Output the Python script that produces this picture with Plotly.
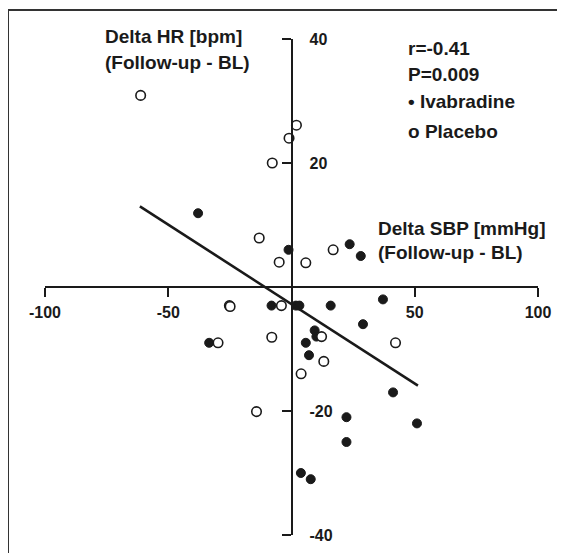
import plotly.graph_objects as go

# ---- data ----
ivab_x = [-37.9, -1.2, 23.6, 28.1, -33.4, -8.1, 1.8, 3.2, 15.9, 37.1, 29.0, 9.4, 10.1,
          5.8, 7.1, 41.2, 22.3, 50.9, 22.3, 3.8, 7.8]
ivab_y = [11.9, 6.0, 6.9, 5.0, -9.0, -3.0, -3.0, -3.0, -3.0, -2.0, -6.0, -7.0, -8.0,
          -9.0, -11.0, -17.0, -21.0, -22.0, -25.0, -30.0, -31.0]

plac_x = [-61.2, 2.0, -1.0, -7.8, -13.1, -5.0, 16.9, 5.8, -25.2, -24.9, -4.1, -8.0,
          -29.8, -14.2, 12.2, 13.1, 3.9, 42.2]
plac_y = [30.9, 26.1, 24.0, 20.0, 7.9, 4.0, 6.0, 3.9, -3.0, -3.15, -3.0, -8.1,
          -9.0, -20.1, -8.0, -12.0, -14.0, -9.0]

fit_x = [-61.5, 51.3]
fit_y = [13.0, -15.9]

x_ticks = [-100, -50, 50, 100]
x_tick_text = ["-100", "-50", "50", "100"]
y_ticks = [40, 20, -20, -40]
y_tick_text = ["40", "20", "-20", "-40"]

# ---- figure ----
# the page body has an 8px margin, so the figure is drawn 8px in from the window edge
OFF = 8
WIN_W, WIN_H = 565, 553
W, H = WIN_W - OFF, WIN_H - OFF
ML, MR, MT, MB = 45 - OFF, 27, 39 - OFF, 18
PW, PH = W - ML - MR, H - MT - MB

def px(xs):          # window pixel -> paper fraction
    return (xs - OFF - ML) / PW

def py(ys):
    return 1 - (ys - OFF - MT) / PH

FONT = "Arial, Liberation Sans, sans-serif"
INK = "#1a1a1a"
TICKFONT = dict(family=FONT, size=16, color=INK, weight="bold")

fig = go.Figure()
fig.add_trace(go.Scatter(x=ivab_x, y=ivab_y, mode="markers", name="Ivabradine",
                         marker=dict(size=9, color=INK, line=dict(color=INK, width=1)),
                         showlegend=False))
fig.add_trace(go.Scatter(x=plac_x, y=plac_y, mode="markers", name="Placebo",
                         marker=dict(size=9.5, color="white", line=dict(color=INK, width=1.6)),
                         showlegend=False))
fig.add_trace(go.Scatter(x=fit_x, y=fit_y, mode="lines", yaxis="y2",
                         line=dict(color=INK, width=2.6), showlegend=False))

fig.update_layout(
    template="none",
    width=W, height=H, margin=dict(l=ML, r=MR, t=MT, b=MB),
    plot_bgcolor="white", paper_bgcolor="white",
    xaxis=dict(range=[-100, 100], tickvals=x_ticks, ticktext=x_tick_text,
               side="bottom", anchor="free", position=0.5, automargin=False,
               showgrid=False, zeroline=False, showline=True, linecolor=INK,
               linewidth=1.5, ticks="outside", tickcolor=INK, tickwidth=1.5,
               ticklen=9, ticklabelstandoff=2, tickfont=TICKFONT),
    # y axis: line and ticks pointing left, no labels
    yaxis=dict(range=[-40, 40], tickvals=y_ticks, showticklabels=False,
               side="left", anchor="free", position=0.5, automargin=False,
               showgrid=False, zeroline=False, showline=True, linecolor=INK,
               linewidth=1.5, ticks="outside", tickcolor=INK, tickwidth=1.5,
               ticklen=9),
    # companion axis (same scale) carrying the y tick labels right of the vertical axis
    yaxis2=dict(range=[-40, 40], tickvals=y_ticks, ticktext=y_tick_text,
                overlaying="y", side="right", anchor="free", position=0.5,
                automargin=False, showgrid=False, zeroline=False, showline=False,
                ticks="", ticklabelstandoff=17, tickfont=TICKFONT),
)

def label(text, xs, ys):
    fig.add_annotation(text=text, xref="paper", yref="paper", x=px(xs), y=py(ys),
                       xanchor="left", yanchor="middle", showarrow=False,
                       font=dict(family=FONT, size=19, color=INK, weight="bold"))

label("Delta HR [bpm]", 103, 37)
label("(Follow-up - BL)", 103, 63)
label("r=-0.41", 406, 49)
label("P=0.009", 406, 74)
label("• Ivabradine", 406, 101)
label("o Placebo", 406, 131)
label("Delta SBP [mmHg]", 376, 228)
label("(Follow-up - BL)", 376, 253)

# outer frame (only top and left edges visible)
fig.add_shape(type="rect", xref="paper", yref="paper",
              x0=px(8), x1=px(WIN_W + 20), y0=py(WIN_H + 20), y1=py(10),
              line=dict(color="#333333", width=2))

fig.write_html("out.html")
